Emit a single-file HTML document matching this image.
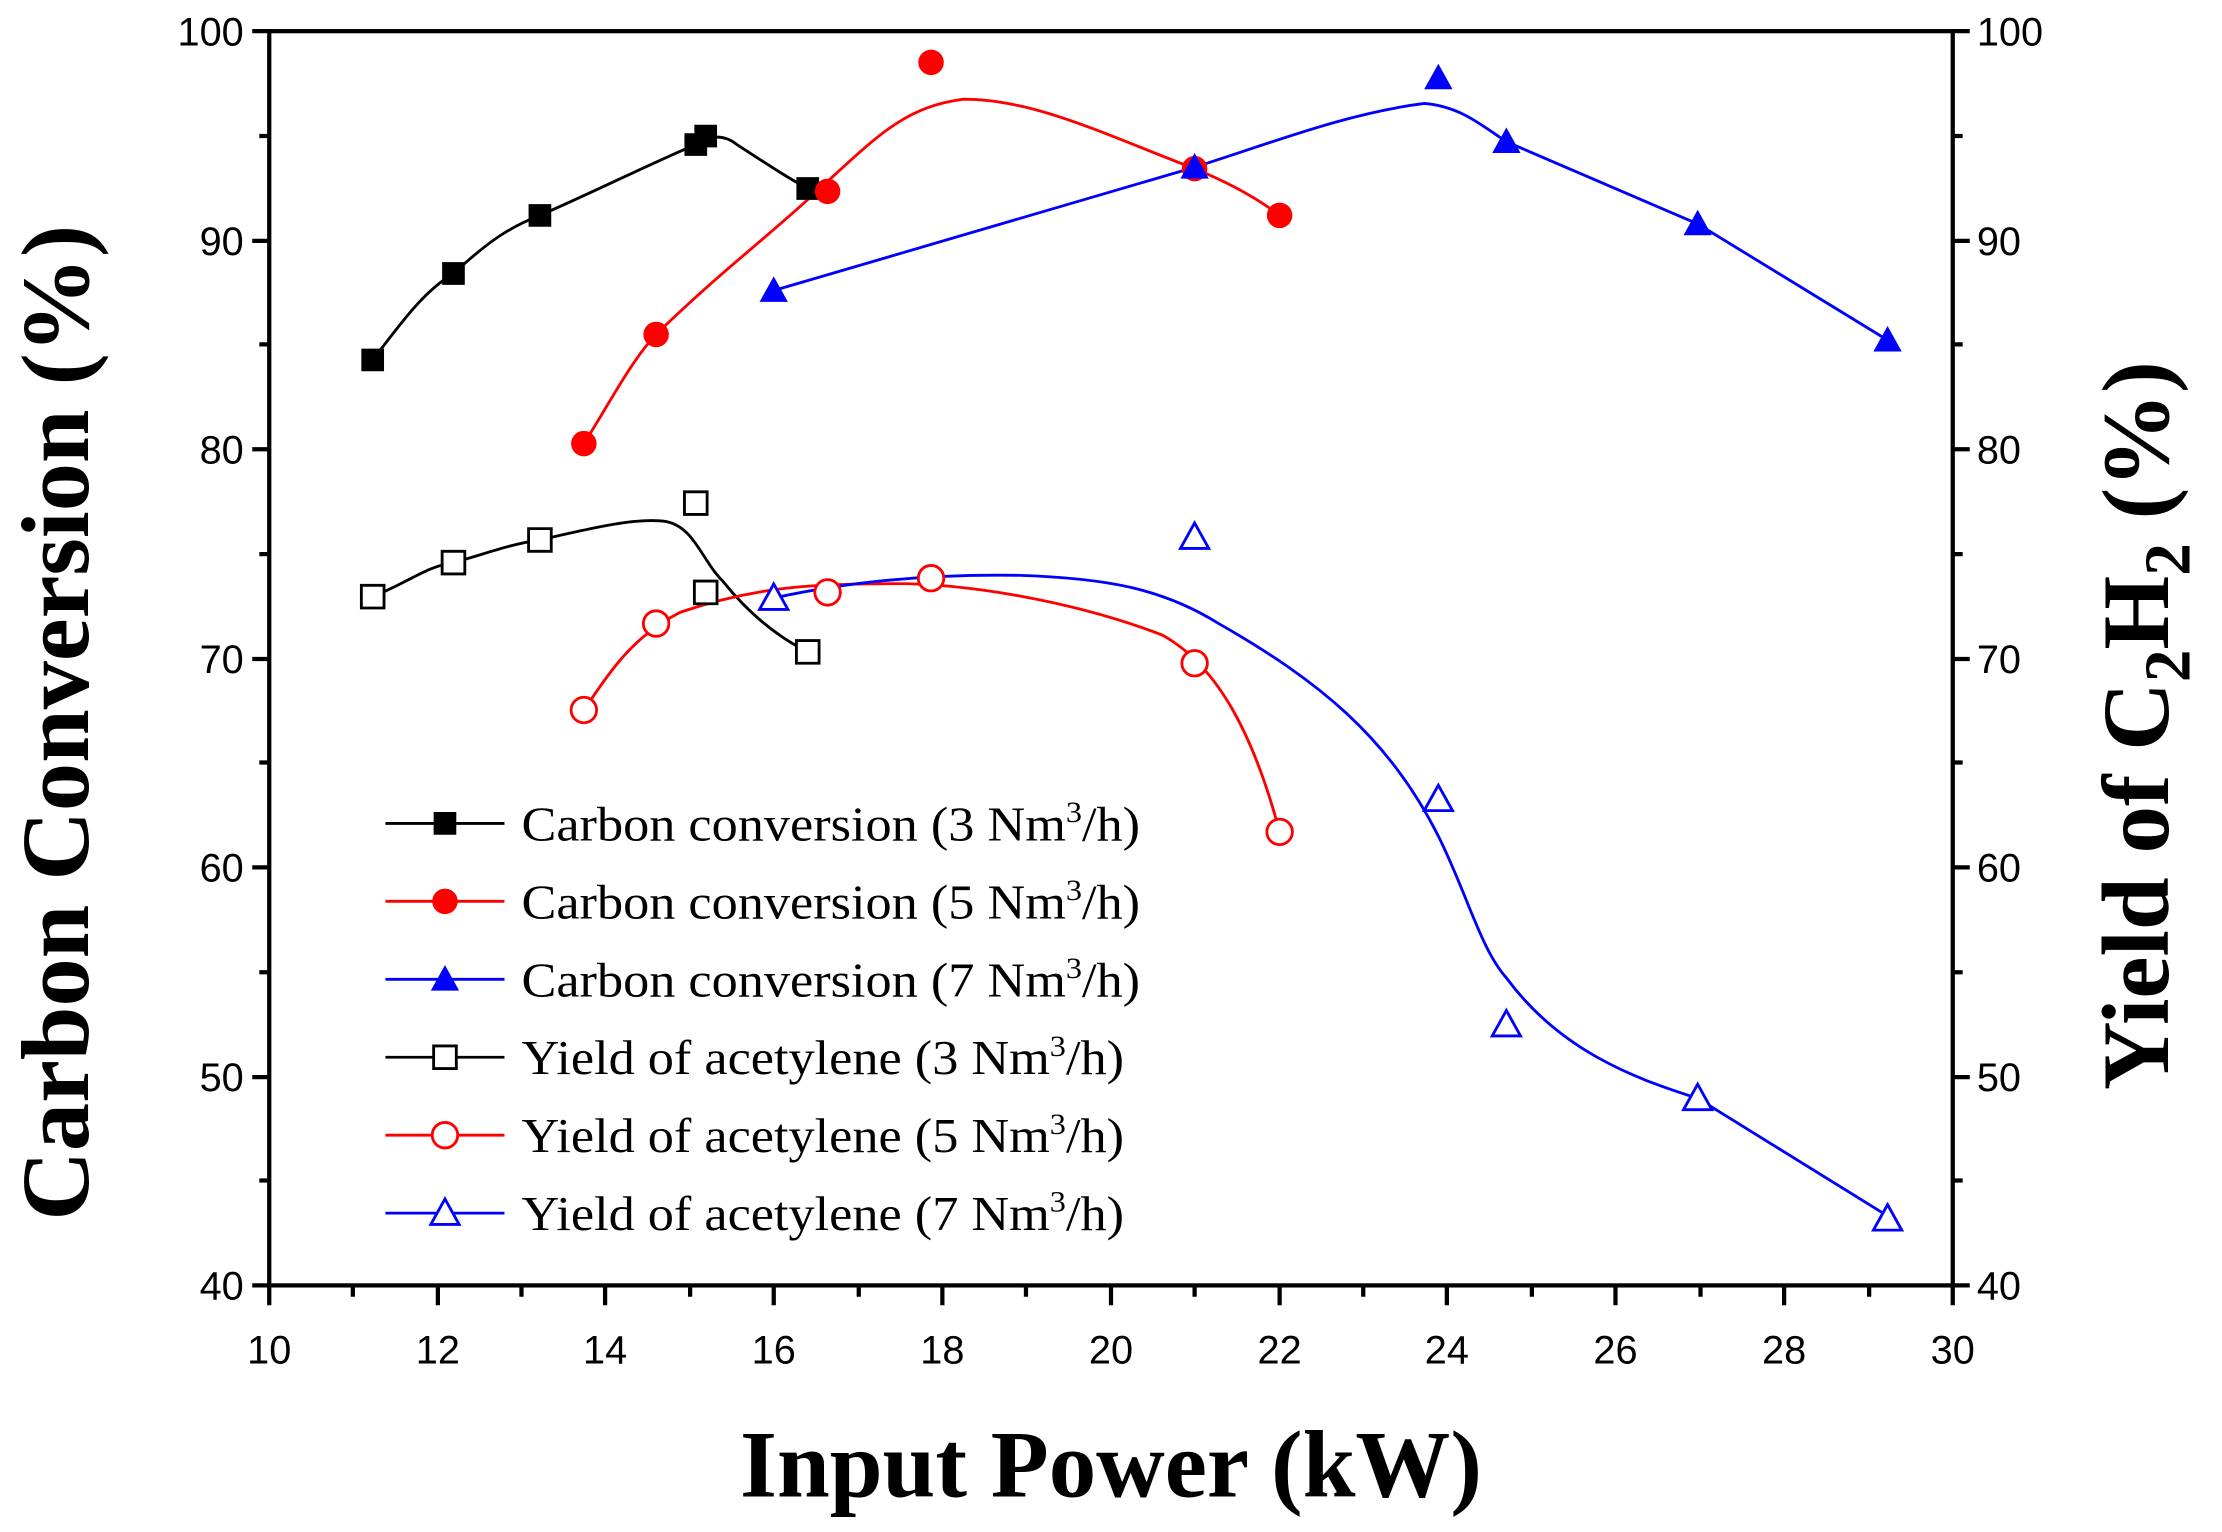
<!DOCTYPE html>
<html><head><meta charset="utf-8"><style>html,body{margin:0;padding:0;background:#fff}svg{display:block}</style></head>
<body>
<svg width="2222" height="1532" viewBox="0 0 1568 1081" preserveAspectRatio="none" xmlns="http://www.w3.org/2000/svg">
<defs>
<path id="sq" d="M-8,-8h16v16h-16z"/>
<circle id="ci" r="9"/>
<path id="tr" d="M0,-10L10,8L-10,8Z"/>
</defs>
<g font-family="Liberation Sans, sans-serif" font-size="28" fill="#000">
<rect x="190" y="22" width="1188" height="885" fill="none" stroke="#000" stroke-width="3"/>
<g stroke="#000" stroke-width="3">
<path d="M190,907v14M309,907v14M427,907v14M546,907v14M665,907v14M784,907v14M903,907v14M1021,907v14M1140,907v14M1259,907v14M1378,907v14"/>
<path d="M249,907v8M368,907v8M487,907v8M606,907v8M724,907v8M843,907v8M962,907v8M1081,907v8M1200,907v8M1319,907v8"/>
<path d="M190,22h-12M190,170h-12M190,317h-12M190,465h-12M190,612h-12M190,760h-12M190,907h-12"/>
<path d="M190,96h-7M190,243h-7M190,391h-7M190,538h-7M190,686h-7M190,833h-7"/>
<path d="M1378,22h12M1378,170h12M1378,317h12M1378,465h12M1378,612h12M1378,760h12M1378,907h12"/>
<path d="M1378,96h7M1378,243h7M1378,391h7M1378,538h7M1378,686h7M1378,833h7"/>
</g>
<g text-anchor="middle">
<text x="190" y="962">10</text><text x="309" y="962">12</text><text x="427" y="962">14</text><text x="546" y="962">16</text><text x="665" y="962">18</text><text x="784" y="962">20</text><text x="903" y="962">22</text><text x="1021" y="962">24</text><text x="1140" y="962">26</text><text x="1259" y="962">28</text><text x="1378" y="962">30</text>
</g>
<g text-anchor="end">
<text x="172" y="32">100</text><text x="172" y="180">90</text><text x="172" y="327">80</text><text x="172" y="475">70</text><text x="172" y="622">60</text><text x="172" y="770">50</text><text x="172" y="917">40</text>
</g>
<g text-anchor="start">
<text x="1395" y="32">100</text><text x="1395" y="180">90</text><text x="1395" y="327">80</text><text x="1395" y="475">70</text><text x="1395" y="622">60</text><text x="1395" y="770">50</text><text x="1395" y="917">40</text>
</g>
</g>
<g font-family="Liberation Serif, serif" font-weight="bold">
<text x="784" y="1056" font-size="67" text-anchor="middle">Input Power (kW)</text>
<text transform="translate(62,510) rotate(-90)" font-size="68" text-anchor="middle">Carbon Conversion (%)</text>
<text transform="translate(1530,512) rotate(-90)" font-size="67" text-anchor="middle">Yield of C<tspan font-size="46" dy="15">2</tspan><tspan dy="-15">H</tspan><tspan font-size="46" dy="15">2</tspan><tspan dy="-15"> (%)</tspan></text>
</g>
<g fill="none" stroke-width="2">
<path stroke="#000" d="M263,254C285,225 300,205 320,193C345,170 360,160 381,152C420,135 460,115 491,102C500,96 510,94 520,102C540,115 555,125 570,133"/>
<path stroke="#f00" d="M412,313C430,285 445,255 463,236C510,190 545,165 584,128C620,95 640,75 680,70C730,70 780,95 843,119C870,130 890,142 903,152"/>
<path stroke="#00f" d="M546,205L843,118C900,100 950,80 1005,73C1030,75 1045,88 1063,100L1198,158L1332,240"/>
<path stroke="#000" d="M263,421C290,410 300,400 320,397C345,390 360,384 381,381C420,372 450,365 470,368C490,372 495,395 510,410C530,435 550,450 570,460"/>
<path stroke="#f00" d="M412,501C430,475 445,450 480,432C530,415 570,412 620,412C680,410 760,425 820,448C860,470 885,520 903,587"/>
<path stroke="#00f" d="M546,422C600,410 660,405 720,406C780,408 820,415 860,440C930,480 980,520 1015,590C1035,630 1045,670 1063,690C1100,740 1150,760 1198,775L1332,858"/>
</g>
<g fill="#000"><use href="#sq" x="263" y="254"/><use href="#sq" x="320" y="193"/><use href="#sq" x="381" y="152"/><use href="#sq" x="491" y="102"/><use href="#sq" x="498" y="96"/><use href="#sq" x="570" y="133"/></g>
<g fill="#f00"><use href="#ci" x="412" y="313"/><use href="#ci" x="463" y="236"/><use href="#ci" x="584" y="135"/><use href="#ci" x="657" y="44"/><use href="#ci" x="843" y="119"/><use href="#ci" x="903" y="152"/></g>
<g fill="#00f"><use href="#tr" x="546" y="205"/><use href="#tr" x="843" y="118"/><use href="#tr" x="1015" y="55"/><use href="#tr" x="1063" y="100"/><use href="#tr" x="1198" y="158"/><use href="#tr" x="1332" y="240"/></g>
<g fill="#fff" stroke="#000" stroke-width="2"><use href="#sq" x="263" y="421"/><use href="#sq" x="320" y="397"/><use href="#sq" x="381" y="381"/><use href="#sq" x="491" y="355"/><use href="#sq" x="498" y="418"/><use href="#sq" x="570" y="460"/></g>
<g fill="#fff" stroke="#f00" stroke-width="2"><use href="#ci" x="412" y="501"/><use href="#ci" x="463" y="440"/><use href="#ci" x="584" y="418"/><use href="#ci" x="657" y="408"/><use href="#ci" x="843" y="468"/><use href="#ci" x="903" y="587"/></g>
<g fill="#fff" stroke="#00f" stroke-width="2"><use href="#tr" x="546" y="422"/><use href="#tr" x="843" y="379"/><use href="#tr" x="1015" y="564"/><use href="#tr" x="1063" y="723"/><use href="#tr" x="1198" y="775"/><use href="#tr" x="1332" y="860"/></g>
<g stroke-width="2">
<path d="M272,581h84" stroke="#000"/><use href="#sq" x="314" y="581" fill="#000"/>
<path d="M272,636h84" stroke="#f00"/><use href="#ci" x="314" y="636" fill="#f00"/>
<path d="M272,691h84" stroke="#00f"/><use href="#tr" x="314" y="691" fill="#00f"/>
<path d="M272,746h84" stroke="#000"/><use href="#sq" x="314" y="746" fill="#fff" stroke="#000"/>
<path d="M272,801h84" stroke="#f00"/><use href="#ci" x="314" y="801" fill="#fff" stroke="#f00"/>
<path d="M272,856h84" stroke="#00f"/><use href="#tr" x="314" y="856" fill="#fff" stroke="#00f"/>
</g>
<g font-family="Liberation Serif, serif" font-size="34">
<g transform="translate(368,0) scale(1.085,1)">
<text x="0" y="593">Carbon conversion (3 Nm<tspan font-size="21" dy="-13">3</tspan><tspan dy="13">/h)</tspan></text>
<text x="0" y="648">Carbon conversion (5 Nm<tspan font-size="21" dy="-13">3</tspan><tspan dy="13">/h)</tspan></text>
<text x="0" y="703">Carbon conversion (7 Nm<tspan font-size="21" dy="-13">3</tspan><tspan dy="13">/h)</tspan></text>
<text x="0" y="758">Yield of acetylene (3 Nm<tspan font-size="21" dy="-13">3</tspan><tspan dy="13">/h)</tspan></text>
<text x="0" y="813">Yield of acetylene (5 Nm<tspan font-size="21" dy="-13">3</tspan><tspan dy="13">/h)</tspan></text>
<text x="0" y="868">Yield of acetylene (7 Nm<tspan font-size="21" dy="-13">3</tspan><tspan dy="13">/h)</tspan></text>
</g>
</g>
</svg>
</body></html>
